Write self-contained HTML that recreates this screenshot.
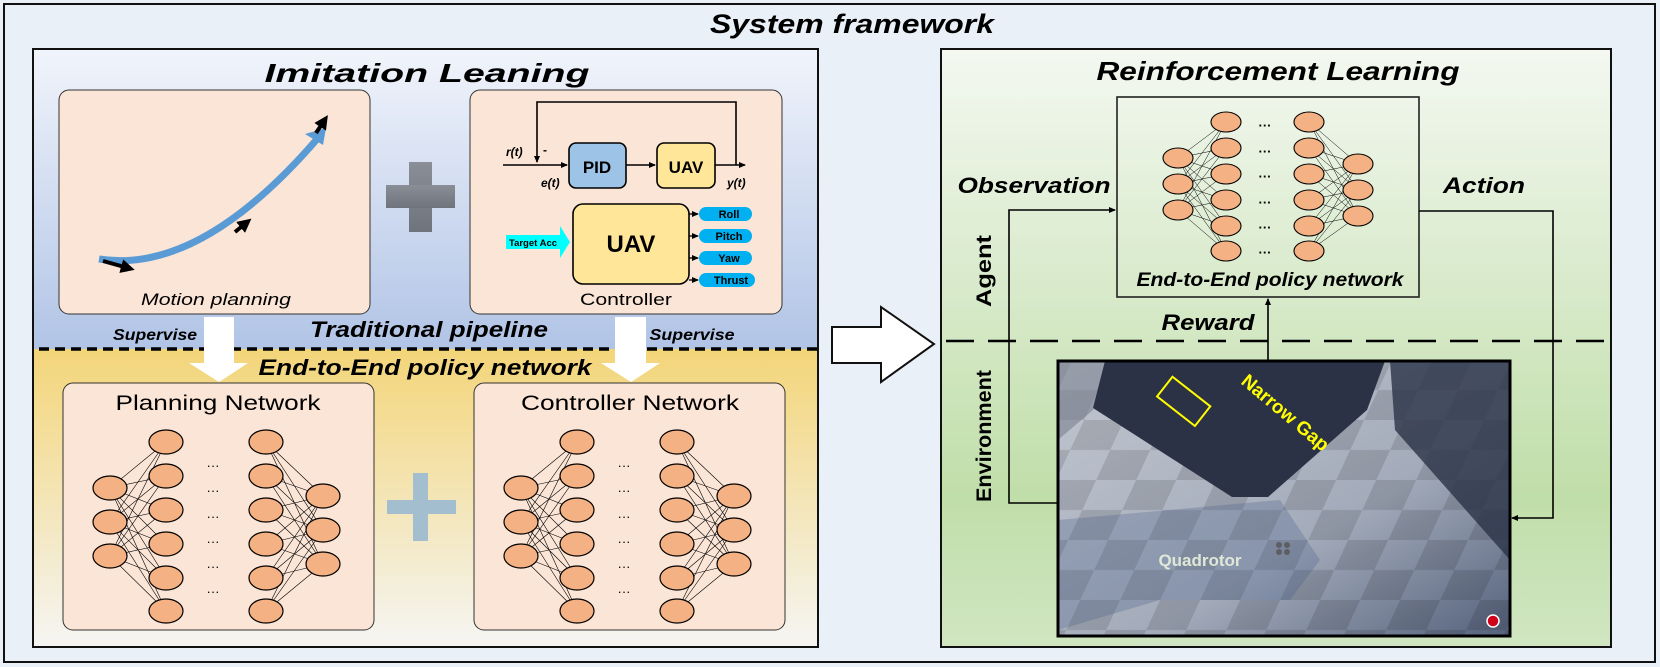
<!DOCTYPE html>
<html><head><meta charset="utf-8"><style>
html,body{margin:0;padding:0;background:#eaf0f8;}
svg{display:block;font-family:"Liberation Sans",Arial,sans-serif;}
</style></head><body>
<svg width="1660" height="667" viewBox="0 0 1660 667" xmlns="http://www.w3.org/2000/svg">
<defs>
<linearGradient id="gTop" x1="0" y1="0" x2="0" y2="1">
<stop offset="0" stop-color="#f1f4fb"/><stop offset="1" stop-color="#b1c4e6"/></linearGradient>
<linearGradient id="gBot" x1="0" y1="0" x2="0" y2="1">
<stop offset="0" stop-color="#f3d579"/><stop offset="1" stop-color="#f5f5f3"/></linearGradient>
<linearGradient id="gR" x1="0" y1="0" x2="0" y2="1">
<stop offset="0" stop-color="#f4f8f1"/><stop offset="0.75" stop-color="#c0dea9"/><stop offset="1" stop-color="#d0e6c2"/></linearGradient>
<linearGradient id="gPlus" x1="0" y1="0" x2="0" y2="1">
<stop offset="0" stop-color="#8a8f97"/><stop offset="1" stop-color="#6f747c"/></linearGradient>
<linearGradient id="gFloor" x1="0" y1="0" x2="1" y2="1">
<stop offset="0" stop-color="#c2c7d0"/><stop offset="0.6" stop-color="#a3abba"/><stop offset="1" stop-color="#55627d"/></linearGradient>
<pattern id="chk" width="80" height="60" patternUnits="userSpaceOnUse" patternTransform="skewX(-25)">
<rect width="40" height="30" fill="#000" opacity="0.12"/><rect x="40" y="30" width="40" height="30" fill="#000" opacity="0.12"/></pattern>
<marker id="ahs" markerWidth="7" markerHeight="6" refX="6" refY="3" orient="auto" markerUnits="userSpaceOnUse"><path d="M0,0 L7,3 L0,6 z" fill="#000"/></marker>
<marker id="ahb" markerWidth="14" markerHeight="14" refX="7" refY="7" orient="auto" markerUnits="userSpaceOnUse"><path d="M0,0 L14,7 L0,14 z" fill="#000"/></marker>
</defs>

<rect x="4" y="4" width="1651" height="658" fill="#eaf0f8" stroke="#111" stroke-width="2"/>
<text x="852" y="33" text-anchor="middle" font-size="27" font-weight="bold" font-style="italic" textLength="284" lengthAdjust="spacingAndGlyphs">System framework</text>

<rect x="33" y="49" width="785" height="300" fill="url(#gTop)"/>
<rect x="33" y="349" width="785" height="298" fill="url(#gBot)"/>
<rect x="33" y="49" width="785" height="598" fill="none" stroke="#111" stroke-width="2"/>
<text x="427" y="82" text-anchor="middle" font-size="26" font-weight="bold" font-style="italic" textLength="325" lengthAdjust="spacingAndGlyphs">Imitation Leaning</text>

<rect x="59" y="90" width="311" height="224" rx="10" fill="#fbe5d6" stroke="#333" stroke-width="1"/>
<path d="M99,259 Q200,275 318,138" fill="none" stroke="#5b9bd5" stroke-width="7"/>
<path d="M305,134 L326,128 L323,145 z" fill="#5b9bd5"/>
<line x1="103" y1="261" x2="128" y2="268" stroke="#000" stroke-width="4" marker-end="url(#ahb)"/>
<line x1="235" y1="232" x2="246" y2="223" stroke="#000" stroke-width="4" marker-end="url(#ahb)"/>
<line x1="316" y1="133" x2="324" y2="121" stroke="#000" stroke-width="4" marker-end="url(#ahb)"/>
<text x="216" y="305" text-anchor="middle" font-size="17" font-style="italic" textLength="150" lengthAdjust="spacingAndGlyphs">Motion planning</text>

<rect x="409" y="162" width="23" height="70" fill="url(#gPlus)"/>
<rect x="386" y="185" width="69" height="23" fill="url(#gPlus)"/>

<rect x="470" y="90" width="312" height="224" rx="10" fill="#fbe5d6" stroke="#333" stroke-width="1"/>
<polyline points="736,165 736,102 537,102 537,162" fill="none" stroke="#000" stroke-width="1.6" marker-end="url(#ahs)"/>
<line x1="503" y1="165" x2="567" y2="165" stroke="#000" stroke-width="1.6" marker-end="url(#ahs)"/>
<line x1="626" y1="165" x2="655" y2="165" stroke="#000" stroke-width="1.6" marker-end="url(#ahs)"/>
<line x1="715" y1="165" x2="745" y2="165" stroke="#000" stroke-width="1.6" marker-end="url(#ahs)"/>
<rect x="569" y="143" width="57" height="45" rx="7" fill="#9dc3e6" stroke="#000" stroke-width="1.6"/>
<text x="597" y="173" text-anchor="middle" font-size="17" font-weight="bold">PID</text>
<rect x="657" y="143" width="58" height="45" rx="7" fill="#ffe699" stroke="#000" stroke-width="1.6"/>
<text x="686" y="173" text-anchor="middle" font-size="17" font-weight="bold">UAV</text>
<text x="506" y="156" font-size="12" font-weight="bold" font-style="italic">r(t)</text>
<text x="543" y="154" font-size="12" font-weight="bold">-</text>
<text x="541" y="187" font-size="12" font-weight="bold" font-style="italic">e(t)</text>
<text x="727" y="187" font-size="12" font-weight="bold" font-style="italic">y(t)</text>
<rect x="573" y="204" width="116" height="80" rx="10" fill="#ffe699" stroke="#000" stroke-width="1.6"/>
<text x="631" y="252" text-anchor="middle" font-size="24" font-weight="bold">UAV</text>
<path d="M506,235 L560,235 L560,226 L570,242 L560,258 L560,249 L506,249 z" fill="#00ffff"/>
<text x="533" y="246" text-anchor="middle" font-size="9.5" font-weight="bold">Target Acc</text>
<g stroke="#000" stroke-width="1.3">
<line x1="689" y1="214" x2="698" y2="214" marker-end="url(#ahs)"/>
<line x1="689" y1="236" x2="698" y2="236" marker-end="url(#ahs)"/>
<line x1="689" y1="258" x2="698" y2="258" marker-end="url(#ahs)"/>
<line x1="689" y1="280" x2="698" y2="280" marker-end="url(#ahs)"/>
</g>
<g fill="#00b0f0"><rect x="699" y="207" width="53" height="14" rx="7"/><rect x="699" y="229" width="53" height="14" rx="7"/><rect x="699" y="251" width="53" height="14" rx="7"/><rect x="699" y="273" width="56" height="14" rx="7"/></g>
<g font-size="11" font-weight="bold" text-anchor="middle"><text x="729" y="218">Roll</text><text x="729" y="240">Pitch</text><text x="729" y="262">Yaw</text><text x="731" y="284">Thrust</text></g>
<text x="626" y="305" text-anchor="middle" font-size="17" textLength="92" lengthAdjust="spacingAndGlyphs">Controller</text>

<line x1="39" y1="349" x2="817" y2="349" stroke="#000" stroke-width="3.5" stroke-dasharray="10,6"/>
<text x="155" y="340" text-anchor="middle" font-size="16" font-weight="bold" font-style="italic" textLength="84" lengthAdjust="spacingAndGlyphs">Supervise</text>
<text x="692" y="340" text-anchor="middle" font-size="16" font-weight="bold" font-style="italic" textLength="85" lengthAdjust="spacingAndGlyphs">Supervise</text>
<text x="429" y="337" text-anchor="middle" font-size="22" font-weight="bold" font-style="italic" textLength="238" lengthAdjust="spacingAndGlyphs">Traditional pipeline</text>
<text x="425" y="375" text-anchor="middle" font-size="22" font-weight="bold" font-style="italic" textLength="333" lengthAdjust="spacingAndGlyphs">End-to-End policy network</text>
<path d="M204,317 L234,317 L234,363 L248,363 L219,382 L189,363 L204,363 z" fill="#fff"/>
<path d="M615,317 L646,317 L646,363 L660,363 L631,382 L601,363 L615,363 z" fill="#fff"/>

<rect x="63" y="383" width="311" height="247" rx="10" fill="#fbe5d6" stroke="#333" stroke-width="1"/>
<rect x="474" y="383" width="311" height="247" rx="10" fill="#fbe5d6" stroke="#333" stroke-width="1"/>
<text x="218" y="410" text-anchor="middle" font-size="21" textLength="205" lengthAdjust="spacingAndGlyphs">Planning Network</text>
<text x="630" y="410" text-anchor="middle" font-size="21" textLength="218" lengthAdjust="spacingAndGlyphs">Controller Network</text>
<rect x="413" y="473" width="15" height="68" fill="#a3bfcf"/>
<rect x="387" y="500" width="69" height="14" fill="#a3bfcf"/>

<g id="net1">
<g stroke="#000" stroke-width="0.6">
<path d="M110,488L166,442M110,488L166,476M110,488L166,510M110,488L166,544M110,488L166,578M110,488L166,611
M110,522L166,442M110,522L166,476M110,522L166,510M110,522L166,544M110,522L166,578M110,522L166,611
M110,556L166,442M110,556L166,476M110,556L166,510M110,556L166,544M110,556L166,578M110,556L166,611
M266,442L323,496M266,476L323,496M266,510L323,496M266,544L323,496M266,578L323,496M266,611L323,496
M266,442L323,530M266,476L323,530M266,510L323,530M266,544L323,530M266,578L323,530M266,611L323,530
M266,442L323,564M266,476L323,564M266,510L323,564M266,544L323,564M266,578L323,564M266,611L323,564"/>
</g>
<g fill="#f4b183" stroke="#000" stroke-width="1.2">
<ellipse cx="110" cy="488" rx="17" ry="12"/><ellipse cx="110" cy="522" rx="17" ry="12"/><ellipse cx="110" cy="556" rx="17" ry="12"/>
<ellipse cx="166" cy="442" rx="17" ry="12"/><ellipse cx="166" cy="476" rx="17" ry="12"/><ellipse cx="166" cy="510" rx="17" ry="12"/><ellipse cx="166" cy="544" rx="17" ry="12"/><ellipse cx="166" cy="578" rx="17" ry="12"/><ellipse cx="166" cy="611" rx="17" ry="12"/>
<ellipse cx="266" cy="442" rx="17" ry="12"/><ellipse cx="266" cy="476" rx="17" ry="12"/><ellipse cx="266" cy="510" rx="17" ry="12"/><ellipse cx="266" cy="544" rx="17" ry="12"/><ellipse cx="266" cy="578" rx="17" ry="12"/><ellipse cx="266" cy="611" rx="17" ry="12"/>
<ellipse cx="323" cy="496" rx="17" ry="12"/><ellipse cx="323" cy="530" rx="17" ry="12"/><ellipse cx="323" cy="564" rx="17" ry="12"/>
</g>
<g font-size="13" text-anchor="middle"><text x="213" y="470">···</text><text x="213" y="495">···</text><text x="213" y="521">···</text><text x="213" y="546">···</text><text x="213" y="571">···</text><text x="213" y="596">···</text></g>
</g>
<use href="#net1" x="411" y="0"/>

<path d="M832,327 L881,327 L881,307 L934,344 L881,382 L881,363 L832,363 z" fill="#fff" stroke="#111" stroke-width="2"/>

<rect x="941" y="49" width="670" height="598" fill="url(#gR)" stroke="#111" stroke-width="2"/>
<text x="1278" y="80" text-anchor="middle" font-size="26" font-weight="bold" font-style="italic" textLength="363" lengthAdjust="spacingAndGlyphs">Reinforcement Learning</text>
<rect x="1117" y="97" width="302" height="200" fill="none" stroke="#222" stroke-width="1.6"/>
<g stroke="#000" stroke-width="0.5">
<path d="M1178,158L1226,122M1178,158L1226,148M1178,158L1226,174M1178,158L1226,200M1178,158L1226,226M1178,158L1226,251
M1178,184L1226,122M1178,184L1226,148M1178,184L1226,174M1178,184L1226,200M1178,184L1226,226M1178,184L1226,251
M1178,210L1226,122M1178,210L1226,148M1178,210L1226,174M1178,210L1226,200M1178,210L1226,226M1178,210L1226,251
M1309,122L1358,164M1309,148L1358,164M1309,174L1358,164M1309,200L1358,164M1309,226L1358,164M1309,251L1358,164
M1309,122L1358,190M1309,148L1358,190M1309,174L1358,190M1309,200L1358,190M1309,226L1358,190M1309,251L1358,190
M1309,122L1358,216M1309,148L1358,216M1309,174L1358,216M1309,200L1358,216M1309,226L1358,216M1309,251L1358,216"/>
</g>
<g fill="#f4b183" stroke="#000" stroke-width="1.1">
<ellipse cx="1178" cy="158" rx="15" ry="10"/><ellipse cx="1178" cy="184" rx="15" ry="10"/><ellipse cx="1178" cy="210" rx="15" ry="10"/>
<ellipse cx="1226" cy="122" rx="15" ry="10"/><ellipse cx="1226" cy="148" rx="15" ry="10"/><ellipse cx="1226" cy="174" rx="15" ry="10"/><ellipse cx="1226" cy="200" rx="15" ry="10"/><ellipse cx="1226" cy="226" rx="15" ry="10"/><ellipse cx="1226" cy="251" rx="15" ry="10"/>
<ellipse cx="1309" cy="122" rx="15" ry="10"/><ellipse cx="1309" cy="148" rx="15" ry="10"/><ellipse cx="1309" cy="174" rx="15" ry="10"/><ellipse cx="1309" cy="200" rx="15" ry="10"/><ellipse cx="1309" cy="226" rx="15" ry="10"/><ellipse cx="1309" cy="251" rx="15" ry="10"/>
<ellipse cx="1358" cy="164" rx="15" ry="10"/><ellipse cx="1358" cy="190" rx="15" ry="10"/><ellipse cx="1358" cy="216" rx="15" ry="10"/>
</g>
<g font-size="13" text-anchor="middle" font-weight="bold"><text x="1265" y="130">···</text><text x="1265" y="156">···</text><text x="1265" y="181">···</text><text x="1265" y="207">···</text><text x="1265" y="232">···</text><text x="1265" y="257">···</text></g>
<text x="1270" y="286" text-anchor="middle" font-size="19" font-weight="bold" font-style="italic" textLength="267" lengthAdjust="spacingAndGlyphs">End-to-End policy network</text>
<text x="1034" y="193" text-anchor="middle" font-size="22" font-weight="bold" font-style="italic" textLength="153" lengthAdjust="spacingAndGlyphs">Observation</text>
<text x="1484" y="193" text-anchor="middle" font-size="22" font-weight="bold" font-style="italic" textLength="82" lengthAdjust="spacingAndGlyphs">Action</text>
<text x="1208" y="330" text-anchor="middle" font-size="22" font-weight="bold" font-style="italic" textLength="93" lengthAdjust="spacingAndGlyphs">Reward</text>
<text transform="translate(991,271) rotate(-90)" text-anchor="middle" font-size="21" font-weight="bold" textLength="72" lengthAdjust="spacingAndGlyphs">Agent</text>
<text transform="translate(991,436) rotate(-90)" text-anchor="middle" font-size="21" font-weight="bold" textLength="132" lengthAdjust="spacingAndGlyphs">Environment</text>
<line x1="946" y1="341" x2="1608" y2="341" stroke="#000" stroke-width="2.5" stroke-dasharray="28,14"/>

<g>
<rect x="1058" y="361" width="452" height="275" fill="url(#gFloor)"/>
<rect x="1058" y="361" width="452" height="275" fill="url(#chk)"/>
<polygon points="1058,361 1110,361 1093,410 1058,440" fill="#7a8190" opacity="0.6"/>
<polygon points="1390,361 1510,361 1510,560 1395,430" fill="#2a3347" opacity="0.8"/>
<polygon points="1058,520 1280,500 1320,560 1290,600 1160,600 1058,630" fill="#3a5585" opacity="0.25"/>
<polygon points="1105,361 1385,361 1367,410 1268,497 1232,497 1093,408" fill="#2c3245"/>
<rect x="1160" y="389" width="48" height="25" transform="rotate(38 1184 401)" fill="none" stroke="#ffff00" stroke-width="2"/>
<text transform="translate(1240,383) rotate(40)" font-size="19" font-weight="bold" fill="#ffff00">Narrow Gap</text>
<text x="1200" y="566" text-anchor="middle" font-size="17" font-weight="bold" fill="#dfe8d6">Quadrotor</text>
<g fill="#555" opacity="0.8"><circle cx="1279" cy="545" r="3"/><circle cx="1287" cy="545" r="3"/><circle cx="1279" cy="552" r="3"/><circle cx="1287" cy="552" r="3"/></g>
<circle cx="1493" cy="621" r="6" fill="#d0021b" stroke="#fff" stroke-width="1.5"/>
<rect x="1058" y="361" width="452" height="275" fill="none" stroke="#000" stroke-width="3"/>
</g>

<polyline points="1058,503 1009,503 1009,210 1115,210" fill="none" stroke="#000" stroke-width="1.6" marker-end="url(#ahs)"/>
<polyline points="1419,211 1553,211 1553,518 1512,518" fill="none" stroke="#000" stroke-width="1.6" marker-end="url(#ahs)"/>
<line x1="1268" y1="361" x2="1268" y2="299" stroke="#000" stroke-width="1.6" marker-end="url(#ahs)"/>
</svg>
</body></html>
